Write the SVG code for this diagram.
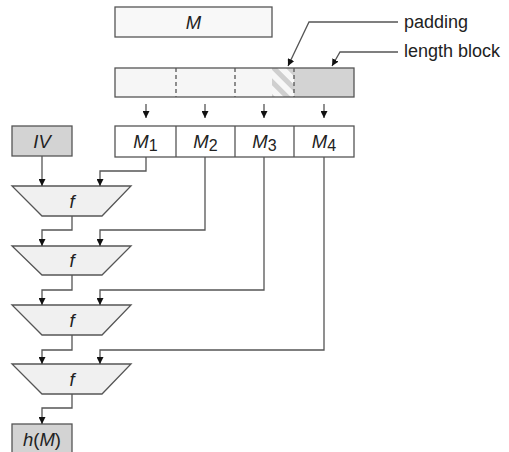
<svg xmlns="http://www.w3.org/2000/svg" width="509" height="452" viewBox="0 0 509 452">
<style>
.box{stroke:#555;stroke-width:1.3}
.lbl{font-family:"Liberation Sans",Arial,sans-serif;font-size:18.5px;fill:#222;text-anchor:middle}
.it{font-style:italic}
.sub{font-style:normal;font-size:16px}
.side{font-family:"Liberation Sans",Arial,sans-serif;font-size:18px;fill:#222}
.conn{fill:none;stroke:#555;stroke-width:1.3}
.dash{stroke:#555;stroke-width:1.3;stroke-dasharray:4,3}
.fbox{fill:#f0f0f0;stroke:#555;stroke-width:1.3}
</style>
<defs>
<marker id="arr" viewBox="0 0 10 10" refX="10" refY="5" markerWidth="7" markerHeight="7" markerUnits="userSpaceOnUse" orient="auto">
<path d="M0,0 L10,5 L0,10 z" fill="#111"/>
</marker>
<pattern id="hatch" patternUnits="userSpaceOnUse" width="11" height="11" patternTransform="rotate(-45)">
<rect width="11" height="11" fill="#f7f7f7"/>
<rect x="0" y="0" width="5" height="11" fill="#cfcfcf"/>
</pattern>
</defs>

<g id="msg">
<rect class="box" x="115" y="7" width="157" height="30" fill="#f8f8f8"/>
<text class="lbl it" x="193.5" y="29">M</text>
</g>

<g id="padded">
<rect x="115" y="68" width="179" height="29" fill="#f6f6f6"/>
<rect x="272" y="68" width="22" height="29" fill="url(#hatch)"/>
<rect x="294" y="68" width="60" height="29" fill="#d3d3d3"/>
<rect class="box" x="115" y="68" width="239" height="29" fill="none"/>
<line class="dash" x1="176" y1="68" x2="176" y2="97"/>
<line class="dash" x1="235" y1="68" x2="235" y2="97"/>
<line class="dash" x1="294" y1="68" x2="294" y2="97"/>
</g>

<g id="blocks">
<rect class="box" x="115" y="126" width="239" height="31" fill="#fff"/>
<line class="box" x1="176" y1="126" x2="176" y2="157"/>
<line class="box" x1="235" y1="126" x2="235" y2="157"/>
<line class="box" x1="294" y1="126" x2="294" y2="157"/>
<text class="lbl" x="145.5" y="148"><tspan class="it">M</tspan><tspan class="sub" dy="3">1</tspan></text>
<text class="lbl" x="205.5" y="148"><tspan class="it">M</tspan><tspan class="sub" dy="3">2</tspan></text>
<text class="lbl" x="264.5" y="148"><tspan class="it">M</tspan><tspan class="sub" dy="3">3</tspan></text>
<text class="lbl" x="324" y="148"><tspan class="it">M</tspan><tspan class="sub" dy="3">4</tspan></text>
</g>

<g id="iv">
<rect class="box" x="12" y="126" width="60" height="30" fill="#d3d3d3"/>
<text class="lbl it" x="42" y="148">IV</text>
</g>

<g id="f1"><polygon class="fbox" points="12,186 131,186 102,216 42,216"/><text class="lbl it" x="72" y="208">f</text></g>
<g id="f2"><polygon class="fbox" points="12,246 131,246 102,275 42,275"/><text class="lbl it" x="72" y="267">f</text></g>
<g id="f3"><polygon class="fbox" points="12,305 131,305 102,335 42,335"/><text class="lbl it" x="72" y="327">f</text></g>
<g id="f4"><polygon class="fbox" points="12,364 131,364 102,394 42,394"/><text class="lbl it" x="72" y="386">f</text></g>

<g id="hash">
<rect class="box" x="12" y="424" width="60" height="30" fill="#d3d3d3"/>
<text class="lbl" x="42" y="446"><tspan class="it">h</tspan>(<tspan class="it">M</tspan>)</text>
</g>

<g id="labels">
<text class="side" x="404" y="28">padding</text>
<text class="side" x="404" y="57">length block</text>
</g>

<g id="connectors">
<path class="conn" d="M146,104 V118" marker-end="url(#arr)"/>
<path class="conn" d="M205,104 V118" marker-end="url(#arr)"/>
<path class="conn" d="M264,104 V118" marker-end="url(#arr)"/>
<path class="conn" d="M324,104 V118" marker-end="url(#arr)"/>
<path class="conn" d="M398,22 H309 L288,66" marker-end="url(#arr)"/>
<path class="conn" d="M398,52 H340 L332,66" marker-end="url(#arr)"/>
<path class="conn" d="M42,156 V186" marker-end="url(#arr)"/>
<path class="conn" d="M146,157 V171 H100 V186" marker-end="url(#arr)"/>
<path class="conn" d="M72,216 V230 H42 V246" marker-end="url(#arr)"/>
<path class="conn" d="M205,157 V230 H100 V246" marker-end="url(#arr)"/>
<path class="conn" d="M72,275 V290 H42 V305" marker-end="url(#arr)"/>
<path class="conn" d="M264,157 V290 H100 V305" marker-end="url(#arr)"/>
<path class="conn" d="M72,335 V350 H42 V364" marker-end="url(#arr)"/>
<path class="conn" d="M324,157 V350 H100 V364" marker-end="url(#arr)"/>
<path class="conn" d="M72,394 V408 H42 V424" marker-end="url(#arr)"/>
</g>
</svg>
